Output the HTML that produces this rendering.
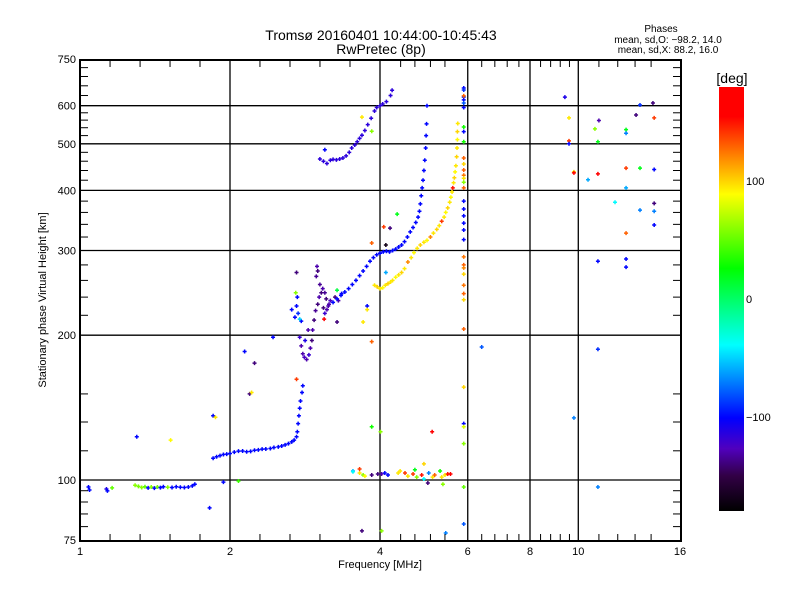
<!DOCTYPE html>
<html><head><meta charset="utf-8">
<style>
html,body{margin:0;padding:0;background:#fff;}
svg{display:block;font-family:"Liberation Sans",sans-serif;}
</style></head>
<body>
<svg id="chart" width="800" height="600" viewBox="0 0 800 600" xmlns="http://www.w3.org/2000/svg">
<text x="381" y="40" font-size="14" text-anchor="middle">Tromsø 20160401 10:44:00-10:45:43</text>
<text x="381" y="54" font-size="14" text-anchor="middle">RwPretec (8p)</text>
<text x="661" y="32" font-size="10" text-anchor="middle">Phases</text>
<text x="668" y="43" font-size="10" text-anchor="middle">mean, sd,O: −98.2, 14.0</text>
<text x="668" y="53" font-size="10" text-anchor="middle">mean, sd,X:  88.2, 16.0</text>
<text x="46" y="300" font-size="11" text-anchor="middle" transform="rotate(-90 46 300)">Stationary phase Virtual Height [km]</text>
<text x="380" y="568" font-size="11" text-anchor="middle">Frequency [MHz]</text>
<text x="732" y="83" font-size="14" text-anchor="middle">[deg]</text>
<g id="grid"></g><g id="marks"></g><g id="axes"></g><g id="cbar"></g>
</svg>
<script>
// ---- data: frequency [MHz], virtual height [km], phase [deg] ----
const eLowF = [1.04,1.045,1.13,1.135,1.16,1.29,1.31,1.33,1.35,1.37,1.39,1.41,1.43,1.45,1.47,1.5,1.53,1.56,1.59,1.62,1.65,1.68,1.70];
const eLowH = [96.7,95.3,95.8,94.9,96.3,97.5,97,96.5,96.8,96.3,96.7,96.2,96.7,96.4,96.8,96.6,96.5,96.8,96.6,96.5,96.7,97.2,98];
const eLowP = [-100,-100,-110,-100,50,60,55,60,50,-100,60,-100,55,-100,-100,60,-100,-100,-100,-100,-100,-100,-100];

const esF = [1.85,1.88,1.91,1.94,1.97,2.0,2.04,2.08,2.12,2.16,2.2,2.24,2.28,2.32,2.36,2.41,2.45,2.5,2.54,2.58,2.62,2.66,2.69,2.72,2.73,2.74,2.75,2.76,2.77,2.79,2.8];
const esH = [111,111.8,112.4,113,113.2,113.5,114.3,114.8,114.9,114.5,114.7,115.3,115.5,115.9,116,116.3,116.8,117.2,117.7,118.3,119,120,121,123,126,131,136,141,146,152,157];

const fClF = [2.76,2.78,2.8,2.82,2.85,2.88,2.9,2.92,2.93,2.95,2.97,3.0,3.02,3.05,3.07,3.1,3.12,3.15,2.98,3.0,2.99,3.03,3.08,3.1,3.13,3.16,3.18,2.83,2.87,2.78,2.74,2.72,2.7,2.73,3.25,3.3,3.35];
const fClH = [198,190,183,180,178,182,188,195,205,215,225,232,240,245,250,245,238,230,265,272,278,255,228,222,226,232,236,195,205,214,222,230,218,240,240,236,244];
const fClP = [-120,-130,-130,-125,-130,-120,-130,-140,-130,-140,-135,-140,-130,-140,-130,-135,-140,-130,-135,-140,-130,-135,-140,-120,-130,-130,-125,-110,-130,-100,-90,-100,-100,-100,-140,-130,-100];

const fMainF = [3.22,3.28,3.34,3.4,3.46,3.52,3.58,3.64,3.7,3.76,3.82,3.88,3.94,4.0,4.06,4.12,4.18,4.24,4.3,4.36,4.42,4.48,4.54,4.6,4.66,4.72,4.77,4.8,4.82,4.84,4.86,4.88,4.9,4.92,4.94,4.95,4.96,4.97];
const fMainH = [234,238,242,246,250,255,260,266,272,278,285,290,294,296,298,299,298,300,302,305,308,313,320,328,335,343,352,362,375,390,405,420,440,462,490,520,550,600];

const fUpF = [3.03,3.08,3.13,3.18,3.22,3.27,3.32,3.37,3.42,3.47,3.51,3.56,3.6,3.64,3.68,3.73,3.78,3.84,3.9,3.94,4.0,4.05,4.12,4.2,4.23];
const fUpH = [465,460,455,462,464,463,465,467,472,480,490,497,505,513,521,533,548,565,585,595,600,605,612,630,646];

const xF = [3.9,3.95,4.0,4.05,4.1,4.15,4.2,4.24,4.3,4.36,4.42,4.48,4.55,4.62,4.68,4.75,4.82,4.9,4.97,5.05,5.12,5.2,5.26,5.32,5.38,5.42,5.47,5.52,5.55,5.58,5.6,5.62,5.64,5.66,5.68,5.7,5.71,5.72,5.72,5.73];
const xH = [254,252,250,251,254,256,258,260,264,267,270,275,284,290,297,303,308,312,315,320,326,332,338,345,352,360,368,378,387,397,405,415,425,437,450,470,490,510,530,551];
const xP = [95,100,95,90,95,100,95,95,90,95,100,95,120,95,90,95,100,95,90,120,95,100,95,140,95,90,100,95,90,95,150,95,100,90,95,100,95,90,100,95];

const eClF = [3.53,3.64,3.70,3.73,3.64,3.85,3.96,4.03,4.09,4.15,4.35,4.39,4.49,4.55,4.66,4.74,4.85,4.9,5.01,5.1,5.15,5.28,5.32,5.4,5.47,5.54];
const eClH = [104.4,105.4,102.4,101.9,103.4,102.4,102.9,102.9,103.4,102.4,103.4,104.4,103.4,101.9,102.9,101.4,102.4,100.5,103.4,101.4,102.4,104.4,101.4,102.4,102.9,102.9];
const eClP = [-60,140,60,90,95,-140,-140,-130,-100,-100,95,95,140,95,140,60,150,-40,-70,95,130,30,95,95,150,170];

const colF = [5.89,5.89,5.89,5.89,5.89,5.89,5.89,5.89,5.89,5.89,5.89,5.89,5.89,5.89,5.89,5.89,5.89,5.89,5.89,5.89,5.89,5.89,5.89,5.89,5.89,5.89,5.89,5.89,5.89,5.89,5.89,5.89,5.89,5.89,5.89,5.89,5.89];
const colH = [653,647,625,617,608,595,629,542,530,505,467,454,441,430,424,416,405,380,366,354,342,331,316,291,280,276,268,254,244,237,206,156,131,129,119,96.7,81];
const colP = [-100,-90,-90,-100,-80,-100,130,30,-100,30,130,100,130,125,95,60,130,-100,-100,-100,-100,-100,-100,125,130,120,100,125,130,100,130,100,-100,80,60,50,-80];

const mF = [9.40,14.12,13.3,13.06,14.2,9.58,11.0,10.8,12.47,12.47,10.95,9.58,9.58,12.47,13.3,14.2,9.80,9.80,10.95,10.46,12.47,11.85,14.2,13.3,14.2,14.2,12.47,10.95,12.47,12.47,6.4,10.95,9.8,10.95,
  1.30,1.52,1.85,1.87,2.19,2.21,1.82,1.94,2.08,3.85,4.01,5.09,3.68,4.03,5.42,4.99,5.35,4.9,4.7,3.53,
  2.72,2.71,2.66,2.76,2.44,2.14,2.24,2.72,3.68,3.85,3.1,4.33,4.07,3.85,4.11,4.19,3.77,3.77,3.7,3.85,4.11,3.28,3.28,3.09];
const mH = [625,608,602,574,566,566,559,537,535,526,505,507,500,445,445,442,437,435,433,421,405,378,376,364,362,339,326,285,288,277,189,96.7,134.6,187,
  123,121,136,135,151,152,87.5,99,99.5,129,126,126,78.4,78.4,77.6,98.6,98,108,105,104,
  270,245,226,216,198,185,175,162,568,531,486,357,336,311,308,334,230,226,213,194,270,248,213,216];
const mP = [-110,-140,-90,-140,140,95,-130,60,20,-70,20,140,-100,140,20,-100,95,160,170,-60,-60,-40,-140,-70,-70,-100,130,-100,-100,-100,-80,-70,-70,-90,
  -100,90,-100,95,-140,95,-100,-100,40,30,60,170,-140,60,-70,-140,60,100,20,-40,
  -140,60,-100,-50,-100,-100,-140,140,95,60,-100,20,140,130,-170,-140,-100,95,95,130,-60,10,-140,170];

const xTicks = [1,2,4,6,8,10,16];
const yTicks = [75,100,200,300,400,500,600,750];
const cbTicks = [100,0,-100];

// ---- scales ----
const X0=80, X1=681, Y0=60, Y1=541;
function xs(f){return 80+150*Math.log2(f);}
function ys(h){return 480-481*Math.log10(h/100);}
const cStops=[[-180,0,0,0],[-150,50,0,70],[-127,80,0,190],[-101,0,0,255],[-70,0,128,255],[-39,0,255,255],[26,0,255,0],[89,255,255,0],[118,255,144,0],[155,255,0,0],[180,255,0,0]];
function col(p){
  for(let i=0;i<cStops.length-1;i++){const a=cStops[i],b=cStops[i+1];
    if(p<=b[0]){const t=Math.max(0,(p-a[0])/(b[0]-a[0]));
      return 'rgb('+[1,2,3].map(k=>Math.round(a[k]+t*(b[k]-a[k]))).join(',')+')';}}
  return 'rgb(255,0,0)';
}
const NS='http://www.w3.org/2000/svg';
function mk(tag,attrs,parent){const e=document.createElementNS(NS,tag);for(const k in attrs)e.setAttribute(k,attrs[k]);parent.appendChild(e);return e;}
const grid=document.getElementById('grid'),marks=document.getElementById('marks'),axes=document.getElementById('axes'),cbar=document.getElementById('cbar');

// grid
[2,4,6,8,10].forEach(f=>{const l=mk('line',{x1:xs(f),x2:xs(f),y1:Y0,y2:Y1,stroke:'#000','stroke-width':1.3},grid);

});
[100,200,300,400,500,600].forEach(h=>{const l=mk('line',{x1:X0,x2:X1,y1:ys(h),y2:ys(h),stroke:'#000','stroke-width':1.3},grid);

});

// marks
function plot(F,H,P,pc){
  for(let i=0;i<F.length;i++){
    const x=xs(F[i]),y=ys(H[i]); if(x<X0||x>X1||y<Y0||y>Y1)continue;
    const c=col(P?P[i]:pc);
    const g=mk('path',{d:`M${x-2},${y}H${x+2}M${x},${y-2}V${y+2}`,stroke:c,'stroke-width':1.5,fill:'none'},marks);
    
    
  }
}
plot(eLowF,eLowH,eLowP);
plot(esF,esH,null,-100);
plot(fClF,fClH,fClP);
plot(fMainF,fMainH,null,-100);
plot(fUpF,fUpH,null,-115);
plot(xF,xH,xP);
plot(eClF,eClH,eClP);
plot(colF,colH,colP);
plot(mF,mH,mP);

// frame
const fr=mk('rect',{x:X0,y:Y0,width:X1-X0,height:Y1-Y0,fill:'none',stroke:'#000','stroke-width':2},axes);


const minorX=[1.149,1.32,1.516,1.741,2.297,2.639,3.031,3.482,4.4,4.7,5.05,5.4,6.4,6.8,7.2,7.6,8.4,8.8,9.2,9.6,11,12,13,14];
minorX.forEach(f=>{const x=xs(f);
  mk('line',{x1:x,x2:x,y1:Y1,y2:Y1-7,stroke:'#000'},axes);
  mk('line',{x1:x,x2:x,y1:Y0,y2:Y0+7,stroke:'#000'},axes);});
const minorY=[80,85,90,95,115,132,151,220,240,260,280,320,340,360,380,420,440,460,480,520,540,560,580,630,660,690,720];
minorY.forEach(h=>{const y=ys(h);
  mk('line',{x1:X0,x2:X0+8,y1:y,y2:y,stroke:'#000'},axes);
  mk('line',{x1:X1,x2:X1-8,y1:y,y2:y,stroke:'#000'},axes);});
xTicks.forEach(f=>{const t=mk('text',{x:xs(f),y:555,'font-size':11,'text-anchor':'middle'},axes);t.textContent=f;

});
yTicks.forEach(h=>{const t=mk('text',{x:76,y:ys(h)+4,'font-size':11,'text-anchor':'end'},axes);t.textContent=h;

});

// colorbar
const defs=mk('defs',{},cbar);
const lg=mk('linearGradient',{id:'cg',x1:0,y1:1,x2:0,y2:0},defs);
cStops.forEach(s=>mk('stop',{offset:(s[0]+180)/360,'stop-color':`rgb(${s[1]},${s[2]},${s[3]})`},lg));
const cb=mk('rect',{x:719,y:87,width:25,height:424,fill:'url(#cg)'},cbar);


cbTicks.forEach(v=>{const y=87+(180-v)/360*424;const t=mk('text',{x:746,y:y+4,'font-size':11},cbar);t.textContent=v===-100?'−100':v;

});
</script>
</body></html>
